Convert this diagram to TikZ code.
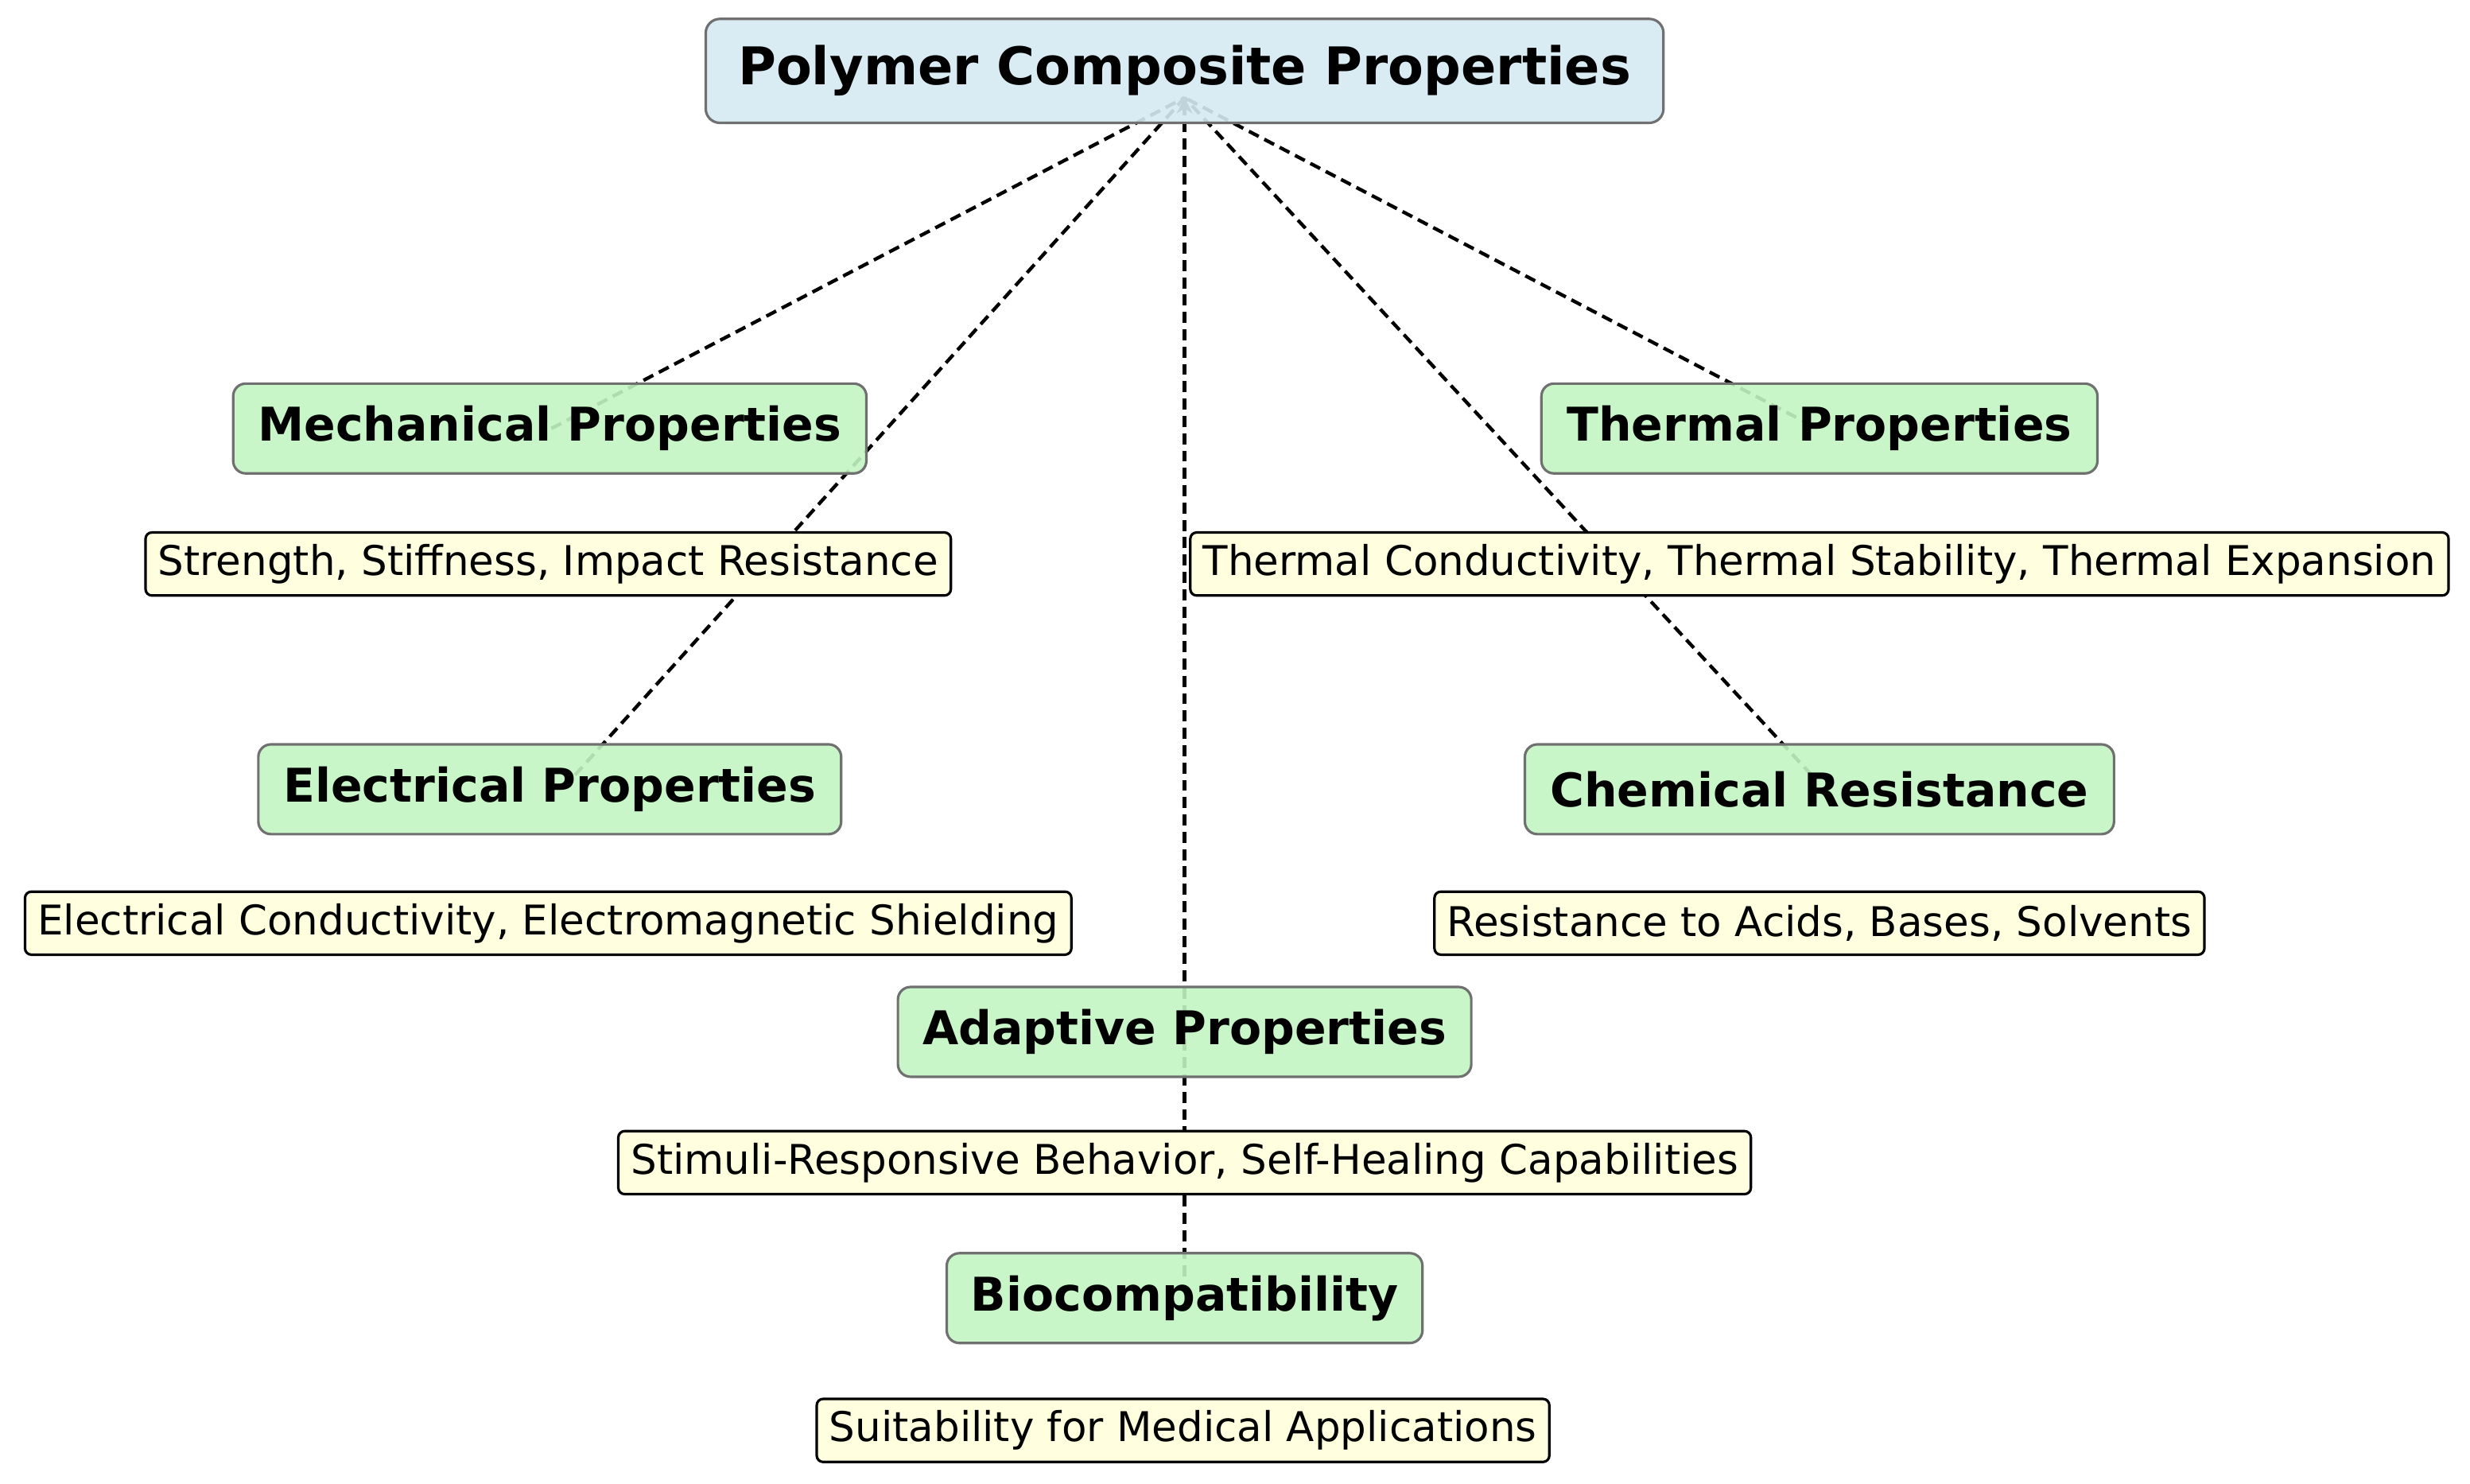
\documentclass[tikz,border=0pt]{standalone}
\usepackage{fontspec}
\setmainfont{DejaVu Sans}
\usetikzlibrary{calc,arrows.meta}
\definecolor{titlefill}{HTML}{D6EAF2}
\definecolor{catfill}{HTML}{C3F5C3}
\definecolor{descfill}{HTML}{FFFFE0}
\definecolor{edgegrey}{HTML}{707070}
\begin{document}
\begin{tikzpicture}[x=1pt,y=1pt,
  titlebox/.style={draw=edgegrey,line width=1.6pt,rounded corners=9pt,fill=titlefill,fill opacity=0.9,text opacity=1,font=\fontsize{33}{38}\selectfont\bfseries,minimum width=608pt,minimum height=66pt},
  catbox/.style={draw=edgegrey,line width=1.6pt,rounded corners=8pt,fill=catfill,fill opacity=0.9,text opacity=1,font=\fontsize{29.5}{34}\selectfont\bfseries,minimum height=57pt,inner xsep=14pt},
  descbox/.style={draw=black,line width=1.6pt,rounded corners=4pt,fill=descfill,font=\fontsize{26}{30}\selectfont,minimum height=40pt,inner xsep=8pt},
  link/.style={draw=black,line width=2.2pt,dash pattern=on 7pt off 4pt}]
\useasboundingbox (0,0) rectangle (1568,-942);
\coordinate (top) at (752,-62);
\coordinate (emech) at (350,-272);
\coordinate (eelec) at (365,-492);
\coordinate (etherm) at (1150,-270);
\coordinate (echem) at (1150,-492);
\coordinate (ebio) at (752,-810);
\draw[link] (emech) -- (top);
\draw[link] (eelec) -- (top);
\draw[link] (etherm) -- (top);
\draw[link] (echem) -- (top);
\draw[link,-{Stealth[length=10pt,width=10pt]}] (ebio) -- (top);
\node[titlebox] (title) at (752,-45) {Polymer Composite Properties};
\node[catbox,minimum width=402pt] (mech) at (349,-272) {Mechanical Properties};
\node[descbox] (mechd) at (348,-358) {Strength, Stiffness, Impact Resistance};
\node[catbox,minimum width=353pt] (therm) at (1155,-272) {Thermal Properties};
\node[descbox] (thermd) at (1155,-358) {Thermal Conductivity, Thermal Stability, Thermal Expansion};
\node[catbox,minimum width=370pt] (elec) at (349,-501) {Electrical Properties};
\node[descbox] (elecd) at (348,-586) {Electrical Conductivity, Electromagnetic Shielding};
\node[catbox,minimum width=374pt] (chem) at (1155,-501) {Chemical Resistance};
\node[descbox] (chemd) at (1155,-586) {Resistance to Acids, Bases, Solvents};
\node[catbox,minimum width=364pt] (adapt) at (752,-655) {Adaptive Properties};
\node[descbox] (adaptd) at (752,-738) {Stimuli-Responsive Behavior, Self-Healing Capabilities};
\node[catbox,minimum width=302pt] (bio) at (752,-824) {Biocompatibility};
\node[descbox] (biod) at (751,-908) {Suitability for Medical Applications};
\end{tikzpicture}
\end{document}
